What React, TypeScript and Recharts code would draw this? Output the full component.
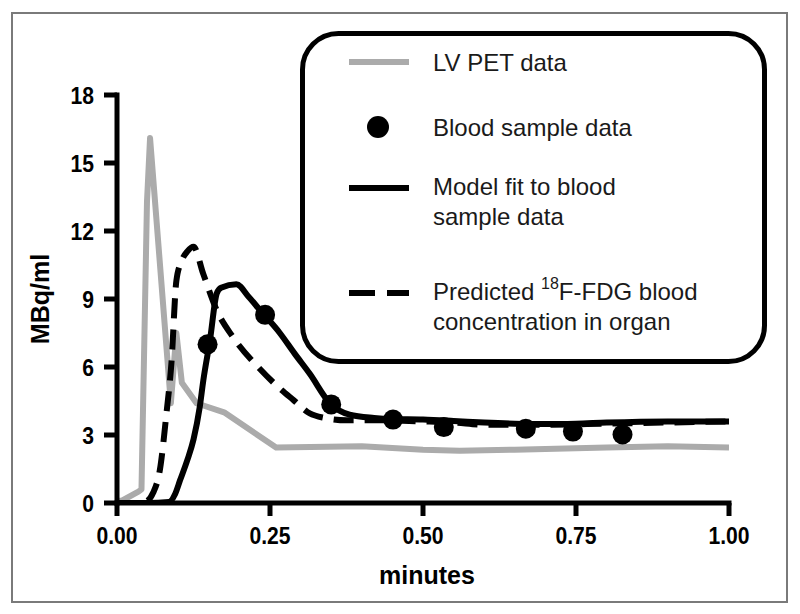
import React from 'react';
import { ComposedChart, Line, Scatter, XAxis, YAxis, Legend } from 'recharts';

// LV PET data (grey)
const lvTime = [0, 0.008, 0.035, 0.04, 0.049, 0.054, 0.088, 0.097, 0.106, 0.13, 0.175, 0.26, 0.4, 0.5, 0.56, 0.65, 0.8, 0.9, 1.0];
const lvValue = [0.1, 0.1, 0.5, 0.6, 13.3, 16.1, 4.4, 7.5, 5.3, 4.4, 4.0, 2.45, 2.5, 2.35, 2.3, 2.35, 2.45, 2.5, 2.45];

// Model fit to blood sample data (solid black)
const fitTime = [0, 0.05, 0.085, 0.095, 0.103, 0.115, 0.125, 0.135, 0.141, 0.152, 0.163, 0.17, 0.195, 0.215, 0.234, 0.266, 0.29, 0.315, 0.348, 0.38, 0.42, 0.45, 0.5, 0.55, 0.6, 0.65, 0.7, 0.75, 0.8, 0.9, 1.0];
const fitValue = [0, 0, 0.05, 0.4, 1.0, 1.9, 2.8, 4.2, 5.4, 7.2, 9.25, 9.5, 9.65, 9.1, 8.5, 7.5, 6.6, 5.7, 4.4, 3.9, 3.75, 3.7, 3.68, 3.62, 3.55, 3.5, 3.48, 3.5, 3.55, 3.6, 3.6];

// Predicted 18F-FDG blood concentration in organ (dashed)
const predTime = [0, 0.04, 0.05, 0.059, 0.07, 0.081, 0.089, 0.097, 0.106, 0.115, 0.125, 0.141, 0.163, 0.19, 0.234, 0.26, 0.288, 0.315, 0.34, 0.375, 0.42, 0.5, 0.55, 0.6, 0.7, 0.8, 0.9, 1.0];
const predValue = [0, 0, 0.1, 0.45, 1.45, 4.0, 6.2, 9.8, 10.7, 11.1, 11.3, 10.1, 8.5, 7.3, 5.9, 5.2, 4.55, 3.95, 3.75, 3.65, 3.65, 3.6, 3.55, 3.45, 3.45, 3.5, 3.55, 3.6];

// Blood sample data (dots)
const sampleTime = [0.148, 0.242, 0.35, 0.451, 0.534, 0.668, 0.745, 0.826];
const sampleValue = [7.0, 8.3, 4.35, 3.68, 3.35, 3.28, 3.15, 3.02];

const xTicks = [0, 0.25, 0.5, 0.75, 1];
const yTicks = [0, 3, 6, 9, 12, 15, 18];

const zip = (xs: number[], ys: number[]) => xs.map((x, i) => ({ x, y: ys[i] }));
const lvData = zip(lvTime, lvValue);
const fitData = zip(fitTime, fitValue);
const predData = zip(predTime, predValue);
const sampleData = zip(sampleTime, sampleValue);

const FONT = '"Liberation Sans", Arial, sans-serif';
const GREY = '#ababab';

const renderLegend = () => (
  <svg width={467} height={333} style={{ display: 'block' }}>
    <rect x={2.5} y={2.5} width={462} height={328} rx={36} ry={36} fill="#fff" stroke="#000" strokeWidth={5} />
    <g fontFamily={FONT} fontSize={24} fill="#1a1a1a">
      <line x1={49} x2={109} y1={31} y2={31} stroke={GREY} strokeWidth={6} />
      <text x={133} y={40}>LV PET data</text>
      <circle cx={78} cy={96} r={11} fill="#000" />
      <text x={133} y={105}>Blood sample data</text>
      <line x1={49} x2={109} y1={157} y2={157} stroke="#000" strokeWidth={6} />
      <text x={133} y={164}>Model fit to blood</text>
      <text x={133} y={194}>sample data</text>
      <line x1={49} x2={109} y1={262} y2={262} stroke="#000" strokeWidth={6} strokeDasharray="26 12" />
      <text x={133} y={269}>
        <tspan>Predicted </tspan>
        <tspan fontSize={16} dy={-11}>18</tspan>
        <tspan dy={11}>F-FDG blood</tspan>
      </text>
      <text x={133} y={299}>concentration in organ</text>
    </g>
  </svg>
);

const XTick = (p: any) => (
  <g transform={`translate(${p.x},${p.y})`}>
    <text textAnchor="middle" dy="0.71em" transform="scale(0.88,1)" fill="#000" fontSize={24} fontWeight="bold" fontFamily={FONT}>
      {Number(p.payload.value).toFixed(2)}
    </text>
  </g>
);

const YTick = (p: any) => (
  <g transform={`translate(${p.x},${p.y})`}>
    <text textAnchor="end" dy="0.355em" transform="scale(0.88,1)" fill="#000" fontSize={24} fontWeight="bold" fontFamily={FONT}>
      {p.payload.value}
    </text>
  </g>
);

const axisLineStyle = { stroke: '#000', strokeWidth: 5, strokeLinecap: 'square' as const };
const tickLineStyle = { stroke: '#000', strokeWidth: 5 };
const labelStyle = { fill: '#000', fontSize: 25, fontWeight: 'bold', fontFamily: FONT };

export default function App() {
  return (
    <div style={{ position: 'absolute', left: 0, top: 0, width: 800, height: 614, background: '#fff' }}>
      <div
        style={{
          position: 'absolute',
          left: 11,
          top: 12,
          width: 777,
          height: 591,
          border: '2px solid #7a7a7a',
          boxSizing: 'border-box',
        }}
      />
      <div style={{ position: 'absolute', left: 0, top: 0 }}>
        <ComposedChart width={800} height={614} margin={{ top: 95, right: 71, bottom: 31, left: 0 }}>
          <XAxis
            type="number"
            dataKey="x"
            domain={[0, 1]}
            ticks={xTicks}
            height={80}
            tick={XTick}
            axisLine={axisLineStyle}
            tickLine={tickLineStyle}
            tickSize={13}
            tickMargin={11}
            allowDataOverflow
            label={{ value: 'minutes', position: 'center', dy: 32, dx: 4, style: labelStyle }}
          />
          <YAxis
            type="number"
            dataKey="y"
            domain={[0, 18]}
            ticks={yTicks}
            width={117}
            tick={YTick}
            axisLine={axisLineStyle}
            tickLine={tickLineStyle}
            tickSize={13}
            tickMargin={10}
            allowDataOverflow
            label={{ value: 'MBq/ml', angle: -90, position: 'center', dx: -18, style: labelStyle }}
          />
          <Legend
            layout="vertical"
            align="center"
            verticalAlign="middle"
            wrapperStyle={{ position: 'absolute', left: 300, top: 31, width: 467, height: 333 }}
            content={renderLegend}
          />
          <Line data={lvData} dataKey="y" type="linear" stroke={GREY} strokeWidth={6} dot={false} isAnimationActive={false} strokeLinejoin="round" />
          <Line data={predData} dataKey="y" type="monotone" stroke="#000" strokeWidth={6} strokeDasharray="20 11" dot={false} isAnimationActive={false} strokeLinejoin="round" />
          <Line data={fitData} dataKey="y" type="monotone" stroke="#000" strokeWidth={6} dot={false} isAnimationActive={false} strokeLinejoin="round" />
          <Scatter
            data={sampleData}
            dataKey="y"
            fill="#000"
            isAnimationActive={false}
            shape={(p: any) => <circle cx={p.cx} cy={p.cy} r={10} fill="#000" />}
          />
        </ComposedChart>
      </div>
    </div>
  );
}
